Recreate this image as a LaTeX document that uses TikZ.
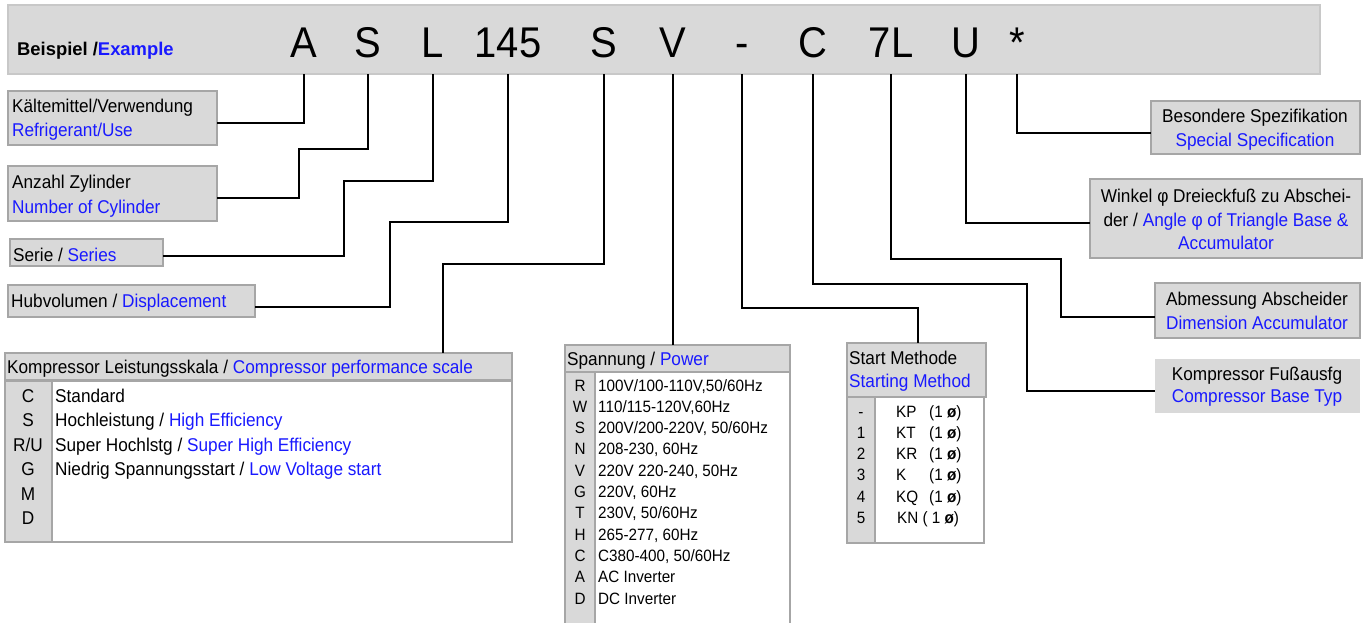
\documentclass[tikz,border=0pt]{standalone}
\usepackage{fontspec}
\setmainfont{Liberation Sans}[FakeStretch=0.93]
\newfontfamily\wideb{Liberation Sans}
\definecolor{bl}{RGB}{25,25,255}
\definecolor{boxfill}{RGB}{217,217,217}
\definecolor{boxline}{RGB}{166,166,166}
\definecolor{barline}{RGB}{200,200,200}
\begin{document}
\begin{tikzpicture}[x=1pt,y=-1pt,
  rb/.style={draw=boxline, fill=boxfill, line width=2.5pt, inner sep=0pt, anchor=north west, outer sep=0pt},
  wb/.style={rb, fill=white},
  conn/.style={draw=black, line width=1.8pt},
  big/.style={anchor=base, inner sep=0pt, font=\fontsize{43}{48}\selectfont},
  tx/.style={anchor=base west, inner sep=0pt, font=\fontsize{18.5}{21}\selectfont},
  tc/.style={anchor=base, inner sep=0pt, font=\fontsize{18.5}{21}\selectfont},
  sx/.style={anchor=base west, inner sep=0pt, font=\fontsize{16.4}{18}\selectfont},
  sc/.style={anchor=base, inner sep=0pt, font=\fontsize{16.4}{18}\selectfont}]
\useasboundingbox (0,0) rectangle (1370,622);
% top bar
\node[rb, draw=barline, line width=2pt, minimum width=1312pt, minimum height=69pt] (bar) at (8,5) {};
\node[anchor=base west, inner sep=0pt, font=\wideb\bfseries\fontsize{18.4}{20}\selectfont] (ex) at (17,55) {Beispiel /\textcolor{bl}{Example}};
\node[big] (A) at (304,57) {A};
\node[big] (S1) at (368,57) {S};
\node[big] (L) at (433,57) {L};
\node[big] (N145) at (508,57) {145};
\node[big] (S2) at (604,57) {S};
\node[big] (V) at (673,57) {V};
\node[big] (dash) at (742,57) {-};
\node[big] (C) at (813,57) {C};
\node[big] (L7) at (891,57) {7L};
\node[big] (U) at (966,57) {U};
\node[big] (star) at (1017,57) {*};
% left boxes
\node[rb, minimum width=209pt, minimum height=54pt] (b1) at (8,91) {};
\node[tx] (b1a) at (12,112) {Kältemittel/Verwendung};
\node[tx, text=bl] (b1b) at (12,136) {Refrigerant/Use};
\node[rb, minimum width=209pt, minimum height=55pt] (b2) at (8,166) {};
\node[tx] (b2a) at (12,188) {Anzahl Zylinder};
\node[tx, text=bl] (b2b) at (12,213) {Number of Cylinder};
\node[rb, minimum width=153pt, minimum height=27pt] (b3) at (10,239) {};
\node[tx] (b3a) at (13,261) {Serie / \textcolor{bl}{Series}};
\node[rb, minimum width=247pt, minimum height=32pt] (b4) at (8,285) {};
\node[tx] (b4a) at (11,307) {Hubvolumen / \textcolor{bl}{Displacement}};
% performance scale
\node[rb, minimum width=507pt, minimum height=27pt] (b5h) at (5,353) {};
\node[tx] (b5t) at (7,373) {Kompressor Leistungsskala / \textcolor{bl}{Compressor performance scale}};
\node[rb, minimum width=47pt, minimum height=161pt] (b5l) at (5,381) {};
\node[wb, minimum width=460pt, minimum height=161pt] (b5r) at (52,381) {};
\foreach \k/\y in {C/402,S/426.5,R\slash U/451,G/475.5,M/500,D/524.5}
  \node[tc] (pk\y) at (28,\y) {\k};
\node[tx] (p1) at (55,402) {Standard};
\node[tx] (p2) at (55,426.5) {Hochleistung / \textcolor{bl}{High Efficiency}};
\node[tx] (p3) at (55,451) {Super Hochlstg / \textcolor{bl}{Super High Efficiency}};
\node[tx] (p4) at (55,475.5) {Niedrig Spannungsstart / \textcolor{bl}{Low Voltage start}};
% power
\node[rb, minimum width=225pt, minimum height=27pt] (pw) at (565,345) {};
\node[tx] (pwt) at (567,365) {Spannung / \textcolor{bl}{Power}};
\node[rb, minimum width=30pt, minimum height=270pt] (pwl) at (565,372) {};
\node[wb, minimum width=195pt, minimum height=270pt] (pwr) at (595,372) {};
\foreach \k/\t [count=\i from 0] in {R/{100V/100-110V,50/60Hz},W/{110/115-120V,60Hz},S/{200V/200-220V, 50/60Hz},N/{208-230, 60Hz},V/{220V 220-240, 50Hz},G/{220V, 60Hz},T/{230V, 50/60Hz},H/{265-277, 60Hz},C/{C380-400, 50/60Hz},A/{AC Inverter},D/{DC Inverter}}{
  \node[sc] (vk\i) at (580,391+21.3*\i) {\k};
  \node[sx] (vt\i) at (598,391+21.3*\i) {\t};
}
% start method
\node[rb, minimum width=139pt, minimum height=54pt] (sm) at (847,343) {};
\node[tx] (sma) at (849,364) {Start Methode};
\node[tx, text=bl] (smb) at (849,387) {Starting Method};
\node[rb, minimum width=28pt, minimum height=146pt] (sml) at (847,397) {};
\node[wb, minimum width=109pt, minimum height=146pt] (smr) at (875,397) {};
\foreach \k/\t/\y in {-/KP/417,1/KT/438,2/KR/459,3/K/480,4/KQ/502}{
  \node[sc] (mk\y) at (861,\y) {\k};
  \node[sx] (mt\y) at (896,\y) {\makebox[33pt][l]{\t}(1 {\bfseries ø})};
}
\node[sc] (mk523) at (861,523) {5};
\node[sx] (mt523) at (897,523) {KN ( 1 {\bfseries ø})};
% right boxes
\node[rb, minimum width=209pt, minimum height=53pt] (bs) at (1151,101) {};
\node[tc] (bsa) at (1255,122) {Besondere Spezifikation};
\node[tc, text=bl] (bsb) at (1255,146) {Special Specification};
\node[rb, minimum width=272pt, minimum height=79pt] (wk) at (1090,179) {};
\node[tc] (wka) at (1226,202) {Winkel φ Dreieckfuß zu Abschei-};
\node[tc] (wkb) at (1226,226) {der / \textcolor{bl}{Angle φ of Triangle Base \&}};
\node[tc, text=bl] (wkc) at (1226,249) {Accumulator};
\node[rb, minimum width=205pt, minimum height=55pt] (ab) at (1155,283) {};
\node[tc] (aba) at (1257,305) {Abmessung Abscheider};
\node[tc, text=bl] (abb) at (1257,329) {Dimension Accumulator};
\node[rb, draw=none, minimum width=205pt, minimum height=54pt] (bt) at (1155,359) {};
\node[tc] (bta) at (1257,380) {Kompressor Fußausfg};
\node[tc, text=bl] (btb) at (1257,402) {Compressor Base Typ};
% connectors
\draw[conn] (A |- bar.south) |- ([yshift=-5pt]b1.east);
\draw[conn] (S1 |- bar.south) |- (299,149) |- ([yshift=-4.5pt]b2.east);
\draw[conn] (L |- bar.south) |- (344,181) |- ([yshift=-3.5pt]b3.east);
\draw[conn] (N145 |- bar.south) |- (390,222) |- ([yshift=-6pt]b4.east);
\draw[conn] (S2 |- bar.south) |- (443,264) -- ([xshift=184.5pt]b5h.north);
\draw[conn] (V |- bar.south) -- (V |- pw.north);
\draw[conn] (dash |- bar.south) |- ([xshift=1.5pt,yshift=35pt]sm.north) -- ([xshift=1.5pt]sm.north);
\draw[conn] (C |- bar.south) |- (1027,284) |- ([yshift=-5pt]bt.west);
\draw[conn] (L7 |- bar.south) |- (1061,259) |- ([yshift=-6.5pt]ab.west);
\draw[conn] (U |- bar.south) |- ([yshift=-4.5pt]wk.west);
\draw[conn] (star |- bar.south) |- ([yshift=-5.5pt]bs.west);
\end{tikzpicture}
\end{document}
